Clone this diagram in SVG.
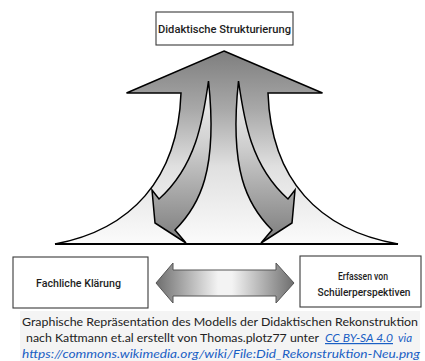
<svg xmlns="http://www.w3.org/2000/svg" width="425" height="361" viewBox="0 0 425 361">
<defs>
<style>
.box{fill:#fff;stroke:#3a3a3a;stroke-width:1.1}
.lbl{font-family:Roboto,"Open Sans",sans-serif;font-size:10.5px;font-weight:500;fill:#1e1e1e;text-anchor:middle}
.out{stroke:#000;stroke-width:1.5;stroke-linejoin:miter}
.cap{font-family:Lato,"Open Sans",sans-serif;font-size:12px;fill:#222}
.lnk{fill:#1a5fc4;font-style:italic}
</style>
<linearGradient id="gBig" gradientUnits="userSpaceOnUse" x1="0" y1="51" x2="0" y2="244">
<stop offset="0" stop-color="#7e7e7e"/>
<stop offset="0.3" stop-color="#a8a8a8"/>
<stop offset="0.6" stop-color="#e0e0e0"/>
<stop offset="1" stop-color="#fbfbfb"/>
</linearGradient>
<linearGradient id="gIn" gradientUnits="userSpaceOnUse" x1="0" y1="81" x2="0" y2="243">
<stop offset="0" stop-color="#f4f4f4"/>
<stop offset="0.4" stop-color="#cfcfcf"/>
<stop offset="1" stop-color="#7c7c7c"/>
</linearGradient>
<linearGradient id="gDbl" gradientUnits="userSpaceOnUse" x1="156" y1="0" x2="294" y2="0">
<stop offset="0" stop-color="#6e6e6e"/>
<stop offset="0.45" stop-color="#f3f3f3"/>
<stop offset="0.55" stop-color="#f3f3f3"/>
<stop offset="1" stop-color="#6e6e6e"/>
</linearGradient>
<path id="curvedArrow" d="M208.5,81 C203,120 196,166 159,199 L152,190 L155,223 L186,243 L175,230 C200,205 218,170 208.5,81 Z"/>
</defs>

<rect x="20" y="311" width="400" height="50" fill="#f4f4f4"/>

<g id="connectors">
<path class="out" fill="url(#gBig)" d="M224,51 L322.5,93 L268,93 C271,180 319,230 398,244 L55,244 C130,230 178,180 181,93 L126.5,93 Z"/>
<line x1="55" y1="244" x2="398" y2="244" stroke="#000" stroke-width="2"/>
<use href="#curvedArrow" class="out" fill="url(#gIn)"/>
<use href="#curvedArrow" class="out" fill="url(#gIn)" transform="translate(447,0) scale(-1,1)"/>
<path fill="url(#gDbl)" stroke="#555" stroke-width="1" d="M156,283 L173,263 L173,270 L276,270 L276,263 L294,283 L276,303 L276,296 L173,296 L173,303 Z"/>
</g>

<g id="node-didaktische-strukturierung">
<rect class="box" x="156" y="12" width="137" height="33"/>
<text class="lbl" x="224.5" y="33" textLength="133" lengthAdjust="spacingAndGlyphs">Didaktische Strukturierung</text>
</g>

<g id="node-fachliche-klaerung">
<rect class="box" x="13" y="257" width="135" height="51"/>
<text class="lbl" x="78.5" y="287" textLength="85" lengthAdjust="spacingAndGlyphs">Fachliche Klärung</text>
</g>

<g id="node-schuelerperspektiven">
<rect class="box" x="300" y="256" width="121" height="51"/>
<text class="lbl" x="363" y="280" textLength="50" lengthAdjust="spacingAndGlyphs">Erfassen von</text>
<text class="lbl" x="364" y="296" textLength="93" lengthAdjust="spacingAndGlyphs">Schülerperspektiven</text>
</g>

<g id="caption">
<text class="cap" x="22" y="326" textLength="396" lengthAdjust="spacingAndGlyphs">Graphische Repräsentation des Modells der Didaktischen Rekonstruktion</text>
<text class="cap" x="26" y="342" textLength="293" lengthAdjust="spacingAndGlyphs">nach Kattmann et.al erstellt von Thomas.plotz77 unter</text>
<text class="cap lnk" x="325" y="342" textLength="68" lengthAdjust="spacingAndGlyphs" text-decoration="underline">CC BY-SA 4.0</text>
<text class="cap lnk" x="398" y="342" textLength="14" lengthAdjust="spacingAndGlyphs">via</text>
<text class="cap lnk" x="22" y="358" textLength="398" lengthAdjust="spacingAndGlyphs">https://commons.wikimedia.org/wiki/File:Did_Rekonstruktion-Neu.png</text>
</g>
</svg>
